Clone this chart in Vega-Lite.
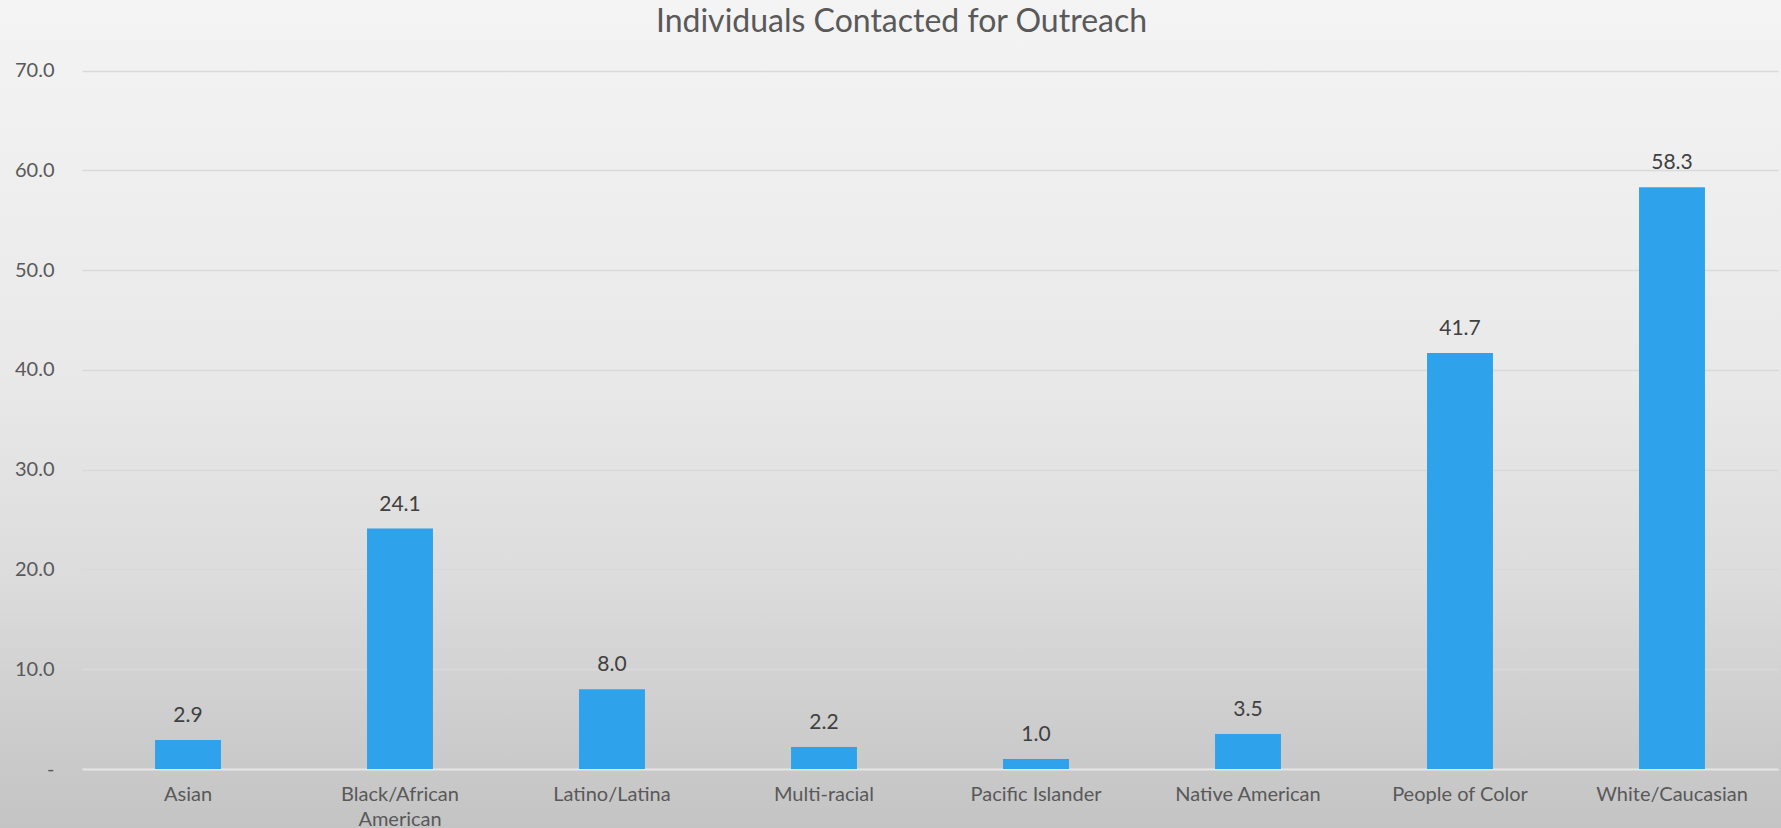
{
  "$schema": "https://vega.github.io/schema/vega-lite/v6.json",
  "width": 1781,
  "height": 828,
  "autosize": {"type": "none"},
  "padding": 0,
  "background": "#e0e0e0",
  "view": {
    "stroke": null,
    "fill": {
      "gradient": "linear",
      "x1": 0, "y1": 0, "x2": 0, "y2": 1,
      "stops": [
        {"offset": 0, "color": "#f4f4f4"},
        {"offset": 0.45, "color": "#e9e9e9"},
        {"offset": 0.7, "color": "#dcdcdc"},
        {"offset": 0.9, "color": "#cbcbcb"},
        {"offset": 1, "color": "#c4c4c4"}
      ]
    }
  },
  "title": {
    "text": "Individuals Contacted for Outreach",
    "font": "Lato",
    "fontSize": 32,
    "fontWeight": "normal",
    "color": "#595959",
    "anchor": "middle",
    "frame": "group",
    "baseline": "alphabetic",
    "offset": 0,
    "dy": 64,
    "dx": 11
  },
  "data": {
    "values": [
      {"group": "Asian", "pct": 2.9},
      {"group": "Black/African American", "pct": 24.1},
      {"group": "Latino/Latina", "pct": 8.0},
      {"group": "Multi-racial", "pct": 2.2},
      {"group": "Pacific Islander", "pct": 1.0},
      {"group": "Native American", "pct": 3.5},
      {"group": "People of Color", "pct": 41.7},
      {"group": "White/Caucasian", "pct": 58.3}
    ]
  },
  "encoding": {
    "x": {
      "field": "group",
      "type": "nominal",
      "sort": null,
      "scale": {"range": [82, 1778], "paddingInner": 0, "paddingOuter": 0},
      "axis": {
        "title": null,
        "offset": -59,
        "labelAngle": 0,
        "labelFont": "Lato",
        "labelFontSize": 20,
        "labelColor": "#595959",
        "labelPadding": 15,
        "labelLineHeight": 25,
        "labelExpr": "datum.label == 'Black/African American' ? ['Black/African', 'American'] : datum.label",
        "ticks": false,
        "tickSize": 0,
        "domainColor": "#e4e4e4",
        "domainWidth": 2,
        "grid": false
      }
    },
    "y": {
      "field": "pct",
      "type": "quantitative",
      "scale": {"domain": [0, 70], "range": [769, 70.5], "nice": false},
      "axis": {
        "title": null,
        "offset": -82,
        "values": [0, 10, 20, 30, 40, 50, 60, 70],
        "labelFont": "Lato",
        "labelFontSize": 20,
        "labelColor": "#595959",
        "labelPadding": 28,
        "labelExpr": "datum.value == 0 ? '-   ' : format(datum.value, '.1f')",
        "ticks": false,
        "tickSize": 0,
        "domain": false,
        "grid": true,
        "gridColor": "#d9d9d9",
        "gridWidth": 1.5
      }
    }
  },
  "layer": [
    {
      "mark": {"type": "bar", "color": "#2ea3ec", "width": {"band": 0.311}}
    },
    {
      "mark": {
        "type": "text",
        "font": "Lato",
        "fontSize": 21,
        "color": "#404040",
        "baseline": "alphabetic",
        "dy": -18
      },
      "encoding": {
        "text": {"field": "pct", "type": "quantitative", "format": ".1f"}
      }
    }
  ]
}
